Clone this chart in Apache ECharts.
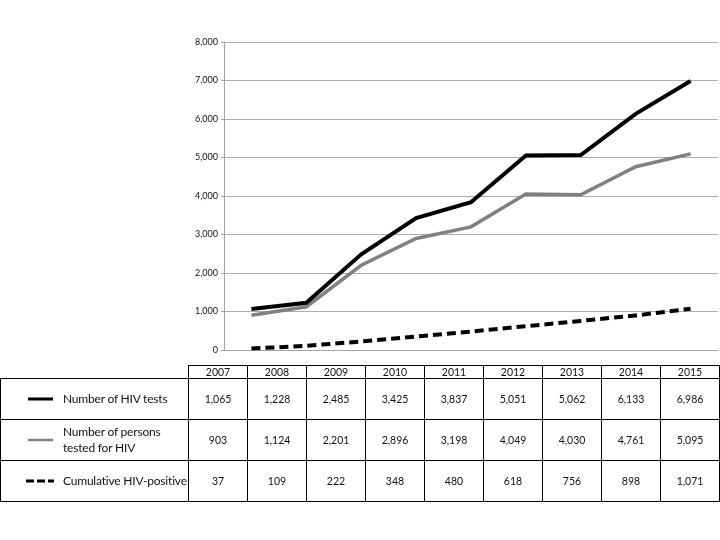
<!DOCTYPE html>
<html>
<head>
<meta charset="utf-8">
<script src="https://cdn.jsdelivr.net/npm/echarts@6/dist/echarts.min.js"></script>
<style>
  html, body { margin: 0; padding: 0; background: #fff; }
  #wrap { position: relative; width: 720px; height: 540px; }
  #chart { position: absolute; left: 0; top: 0; width: 720px; height: 540px; }
  #tbl {
    position: absolute; left: 0; top: 365px; width: 719px;
    border-collapse: collapse; table-layout: fixed;
    font-family: Lato, "Open Sans", sans-serif; color: #111;
  }
  #tbl td { border: 1px solid #000; padding: 0; text-align: center; font-size: 10.5px; }
  #tbl tr.head td { height: 12px; line-height: 12px; }
  #tbl tr.head td.blank { border-top: none; border-left: none; }
  #tbl tr.row td { height: 40px; }
  #tbl td.lbl { text-align: left; font-size: 12px; letter-spacing: -0.2px; line-height: 16px; white-space: nowrap; overflow: hidden; }
  #tbl td.lbl svg { vertical-align: middle; margin: 0 9px 0 25px; }
  #tbl td.lbl span { display: inline-block; vertical-align: middle; }
</style>
</head>
<body>
<div id="wrap">
  <div id="chart"></div>
  <table id="tbl"></table>
</div>
<script>
  // 年份
  var years = ['2007', '2008', '2009', '2010', '2011', '2012', '2013', '2014', '2015'];

  // 各系列數值
  var hivTests = [1065, 1228, 2485, 3425, 3837, 5051, 5062, 6133, 6986];
  var personsTested = [903, 1124, 2201, 2896, 3198, 4049, 4030, 4761, 5095];
  var cumulativePositive = [37, 109, 222, 348, 480, 618, 756, 898, 1071];

  var seriesNames = ['Number of HIV tests', 'Number of persons<br>tested for HIV', 'Cumulative HIV-positive'];
  var seriesColors = ['#000000', '#808080', '#000000'];
  var seriesDashed = [false, false, true];
  var seriesData = [hivTests, personsTested, cumulativePositive];

  var chart = echarts.init(document.getElementById('chart'), null, { renderer: 'canvas' });

  var option = {
    animation: false,
    backgroundColor: '#ffffff',
    grid: { left: 224, right: 2, top: 42, bottom: 190, containLabel: false },
    xAxis: {
      type: 'category',
      data: years,
      boundaryGap: true,
      axisLine: { lineStyle: { color: '#a6a6a6', width: 1 } },
      axisTick: { show: false },
      axisLabel: { show: false }
    },
    yAxis: {
      type: 'value',
      min: 0,
      max: 8000,
      interval: 1000,
      axisLine: { show: true, lineStyle: { color: '#a6a6a6', width: 1 } },
      axisTick: { show: true, length: 3, lineStyle: { color: '#a6a6a6' } },
      splitLine: { lineStyle: { color: '#adadad', width: 1 } },
      axisLabel: {
        fontFamily: 'Lato, sans-serif',
        fontSize: 9,
        color: '#111',
        margin: 6,
        formatter: function(v) { return v.toLocaleString('en-US'); }
      }
    },
    series: seriesData.map(function(d, i) {
      return {
        name: seriesNames[i],
        type: 'line',
        data: d,
        symbol: 'none',
        z: 3 - i,
        lineStyle: {
          color: seriesColors[i],
          width: i === 1 ? 3.5 : 4,
          type: seriesDashed[i] ? [9, 5] : 'solid',
          cap: 'butt',
          join: 'miter'
        }
      };
    })
  };

  chart.setOption(option);

  // 建立資料表
  function fmt(v) { return v.toLocaleString('en-US'); }

  var tbl = document.getElementById('tbl');
  var html = '<colgroup><col style="width:188px">';
  years.forEach(function() { html += '<col style="width:59px">'; });
  html += '</colgroup>';
  html += '<tr class="head"><td class="blank"></td>';
  years.forEach(function(y) { html += '<td>' + y + '</td>'; });
  html += '</tr>';
  seriesData.forEach(function(d, i) {
    var dash = seriesDashed[i] ? ' stroke-dasharray="8,3"' : '';
    var x1 = seriesDashed[i] ? 0 : 2;
    var x2 = seriesDashed[i] ? 28 : 27;
    var sw = i === 1 ? 2.5 : 3;
    html += '<tr class="row"><td class="lbl">' +
      '<svg width="28" height="6"><line x1="' + x1 + '" y1="3" x2="' + x2 + '" y2="3" stroke="' +
      seriesColors[i] + '" stroke-width="' + sw + '"' + dash + '/></svg>' +
      '<span>' + seriesNames[i] + '</span></td>';
    d.forEach(function(v) { html += '<td>' + fmt(v) + '</td>'; });
    html += '</tr>';
  });
  tbl.innerHTML = html;
</script>
</body>
</html>
